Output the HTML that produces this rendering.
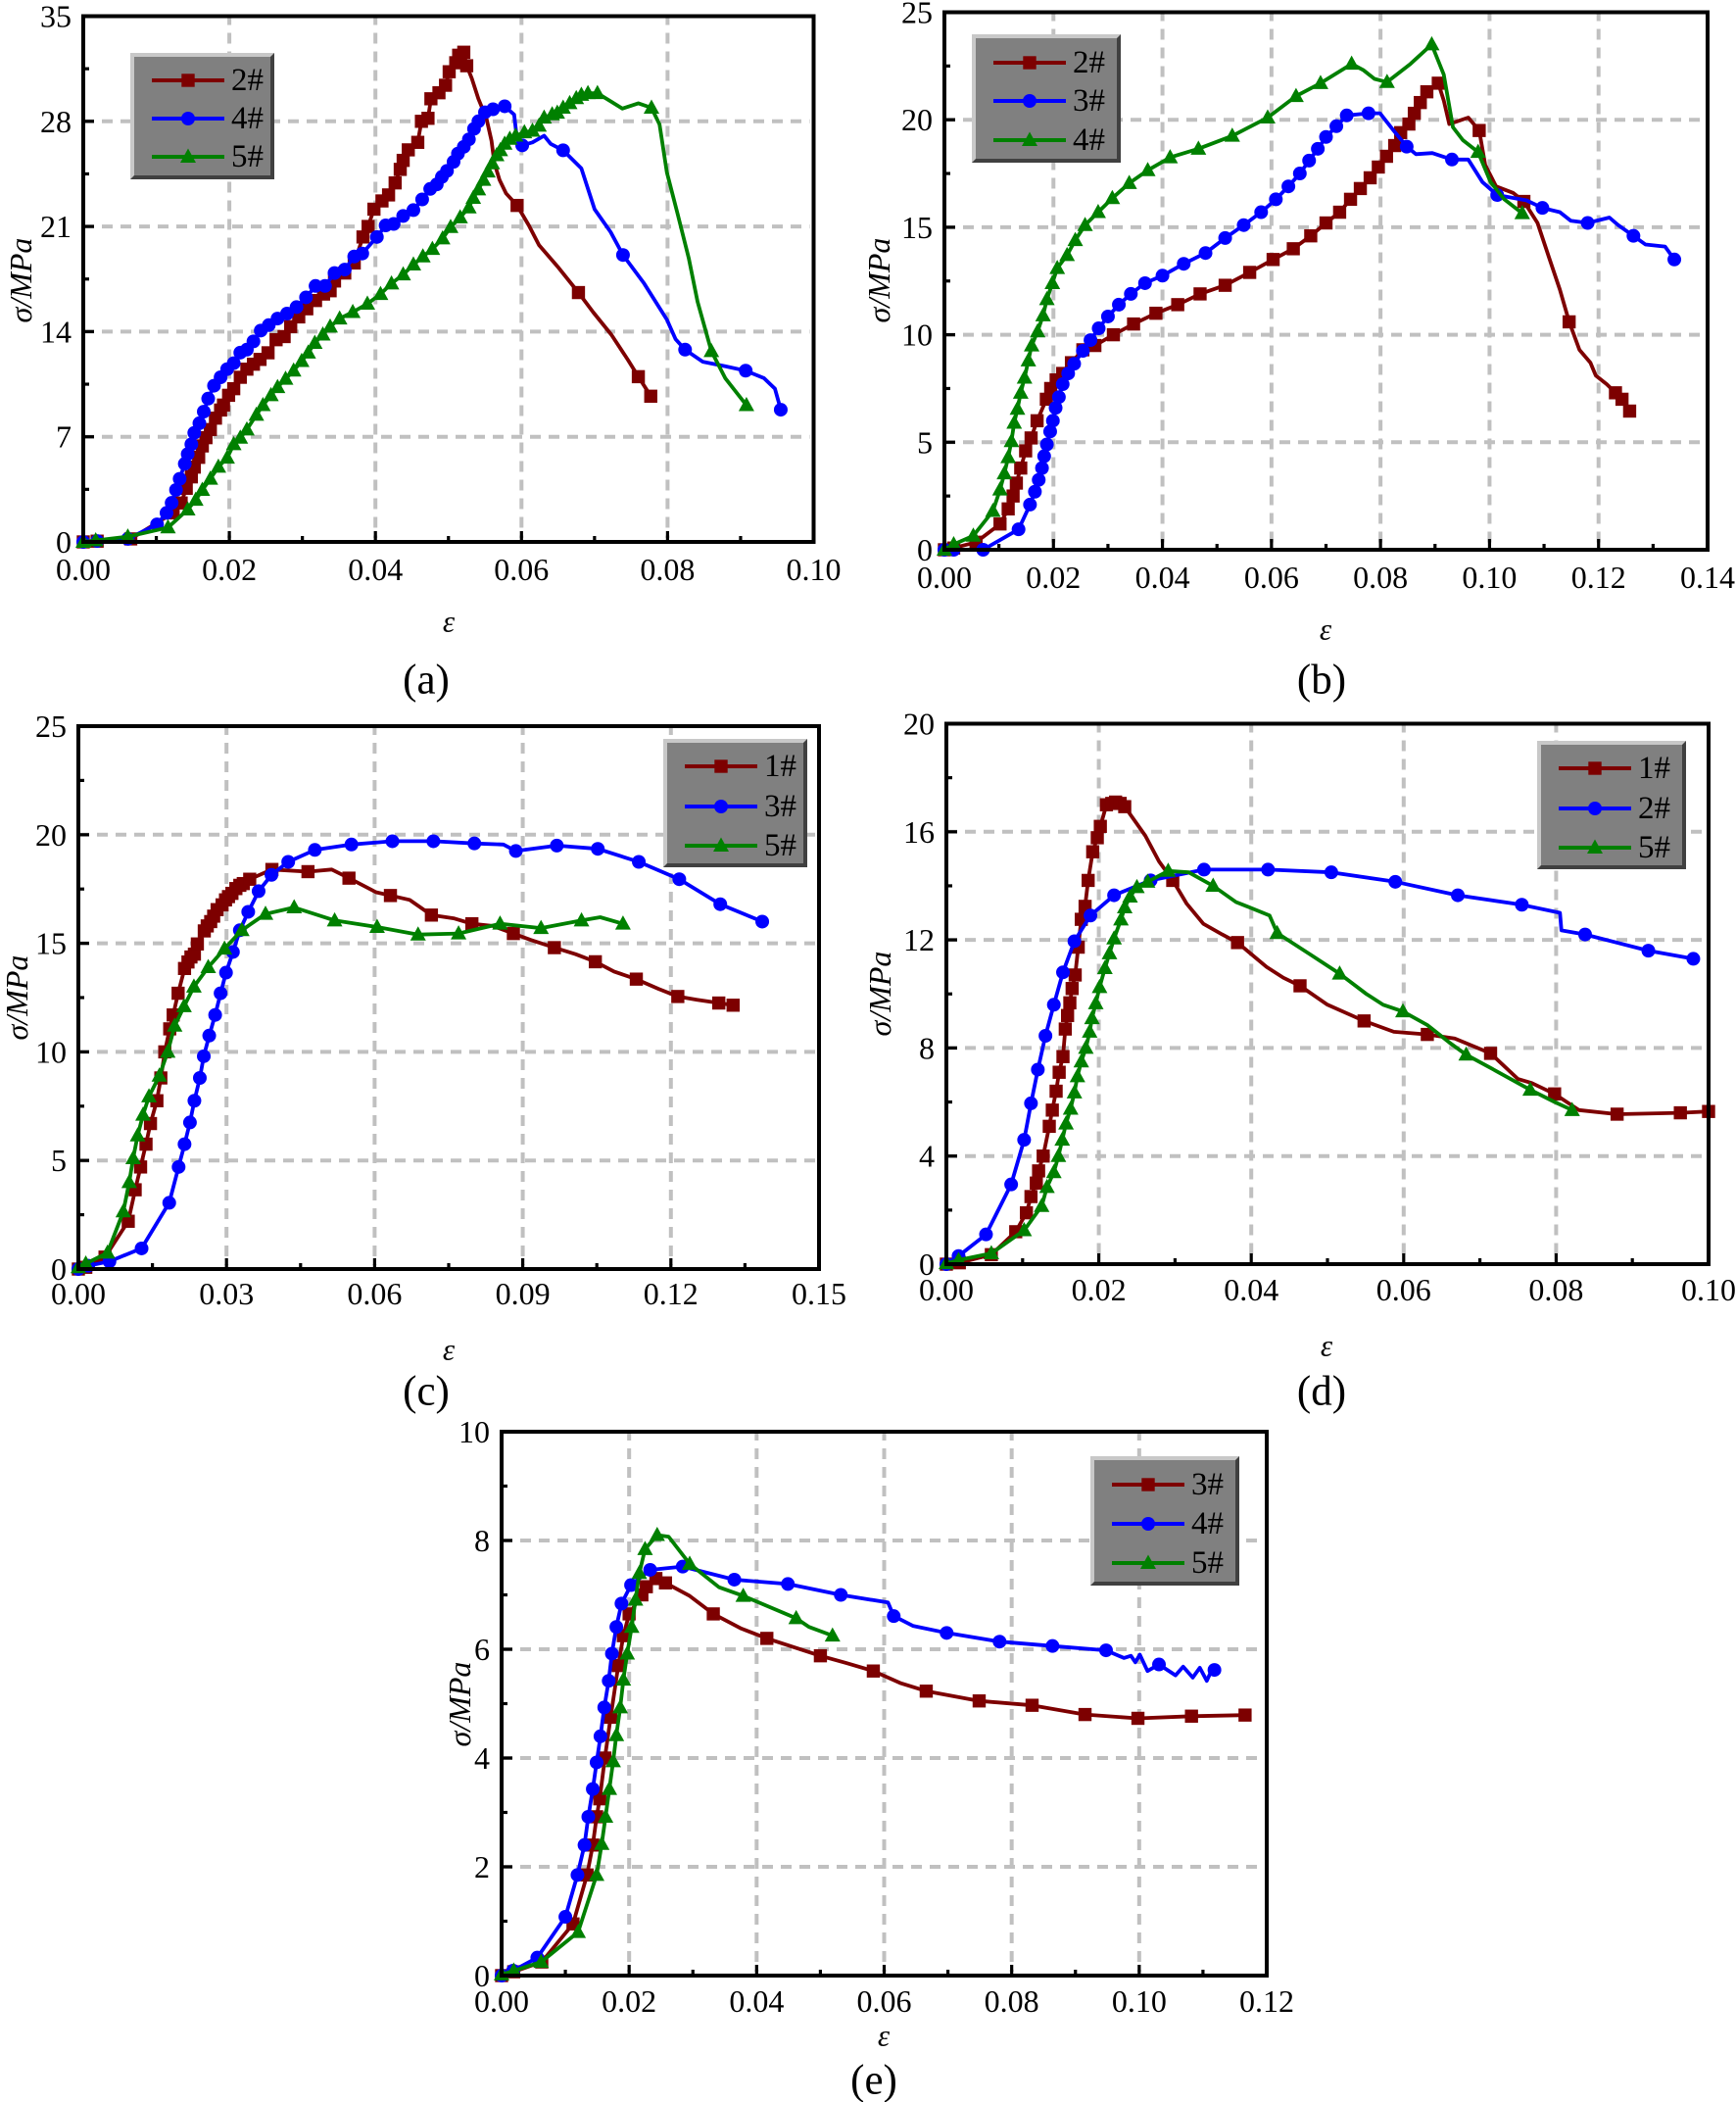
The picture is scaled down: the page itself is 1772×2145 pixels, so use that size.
<!DOCTYPE html>
<html lang="en">
<head>
<meta charset="utf-8">
<title>Stress-strain curves</title>
<style>
html,body{margin:0;padding:0;background:#fff;}
svg{display:block;position:absolute;left:0;top:0;}
text{font-family:"Liberation Serif",serif;fill:#000;}
</style>
</head>
<body>
<svg id="figure" xmlns="http://www.w3.org/2000/svg" width="1772" height="2145" viewBox="0 0 1772 2145"></svg>
<script>
// Panel (a)
const a2Eps=[0,.0019,.0065,.0123,.0134,.0141,.0148,.0152,.0158,.0163,.0168,.0174,.0181,.0188,.0192,.0199,.0206,.0215,.0224,.0233,.0242,.0253,.0264,.0275,.0284,.0295,.0306,.0318,.0329,.0338,.0344,.0358,.0371,.0383,.039,.0398,.0409,.0418,.0427,.0434,.0438,.0445,.0458,.0463,.0472,.0476,.0487,.0496,.0501,.051,.0514,.0521,.0525,.0594,.0678,.076,.0777];
const a2Sig=[0,.05,.2,1.93,2.59,3.57,4.33,4.98,5.63,6.39,6.94,7.48,8.24,8.78,9.11,9.76,10.2,10.96,11.5,11.83,12.15,12.59,13.46,13.67,14.33,14.98,15.52,16.07,16.5,16.72,17.37,17.9,18.57,20.3,21,22.15,22.7,23.1,23.9,24.8,25.4,26.1,26.6,28,28.2,29.5,29.9,30.4,31.3,31.9,32.4,32.6,31.7,22.4,16.6,11,9.7];
const a2BareEps=[.0532,.0541,.0552,.0559,.0563,.057,.0579,.061,.0624,.0651,.0698,.0723,.0746];
const a2BareSig=[30.85,29.5,28.2,26.7,25.2,24.1,23.2,21.07,19.76,18.24,15.3,13.8,12.1];
const a4Eps=[0,.0019,.0061,.0101,.0114,.0121,.0127,.0132,.0139,.0143,.0148,.0152,.0159,.0165,.0171,.0179,.0188,.0197,.0206,.0215,.0224,.0233,.0243,.0254,.0266,.0279,.0292,.0305,.0318,.0331,.0344,.0358,.0371,.0382,.0402,.0414,.0425,.0438,.0452,.0464,.0475,.0484,.0491,.0498,.0507,.0513,.0521,.0528,.0535,.0541,.055,.0561,.0577,.0601,.0657,.0739,.0824,.0907,.0955];
const a4Sig=[0,.06,.2,1.17,1.93,2.6,3.46,4.2,5.2,5.85,6.5,7.26,7.9,8.67,9.54,10.4,10.96,11.5,11.9,12.6,12.8,13.35,14.07,14.43,14.87,15.2,15.63,16.28,17.04,17.04,17.9,18.13,19,19.2,20.3,21.07,21.17,21.7,22.09,22.8,23.5,23.8,24.3,24.7,25.3,25.85,26.3,26.8,27.5,28,28.6,28.8,29,26.4,26.07,19.1,12.8,11.4,8.8];
const a4BareEps=[.059,.0593,.0615,.0631,.064,.0682,.07,.0722,.0768,.0799,.0811,.0848,.0879,.0932,.0947];
const a4BareSig=[28.45,27.15,26.6,27.04,26.5,24.87,22.15,20.63,17.2,14.8,13.5,12,11.7,10.9,10.2];
const a5Eps=[0,.0017,.0061,.0116,.0143,.0154,.0163,.0174,.0185,.0197,.0206,.0215,.0224,.0237,.0246,.0257,.0266,.0277,.0288,.0299,.0308,.0317,.0328,.0338,.0351,.0369,.0389,.0407,.0422,.0438,.0452,.0465,.0478,.0492,.0503,.0516,.0528,.0534,.0541,.0548,.0554,.056,.0566,.0571,.0577,.0584,.0592,.0604,.0615,.0624,.0631,.0642,.0649,.0657,.0666,.0675,.0682,.0691,.0704,.0778,.086,.0908];
const a5Sig=[0,.1,.35,.96,2.15,2.8,3.46,4.2,5,5.6,6.5,6.93,7.48,8.46,9.1,9.76,10.3,10.85,11.4,12.04,12.6,13.24,13.8,14.33,14.87,15.3,15.85,16.5,17.2,17.8,18.46,19,19.5,20.2,20.96,21.6,22.26,22.9,23.46,24.1,24.65,25.2,25.74,26.07,26.5,26.83,27.04,27.26,27.37,27.7,28.24,28.46,28.57,28.9,29.2,29.54,29.76,29.87,29.87,28.9,12.7,9.1];
const a5BareEps=[.0722,.0738,.076,.0789,.0799,.0814,.0829,.0841,.0879];
const a5BareSig=[29.33,28.85,29.2,27.8,24.6,21.8,18.9,16,10.9];

// Panel (b)
const b2Eps=[0,.0017,.0058,.0102,.0117,.0126,.0132,.014,.0149,.0159,.017,.0187,.0195,.0205,.0217,.0233,.0254,.0276,.031,.0347,.0388,.0428,.0469,.0515,.056,.0603,.064,.0672,.07,.0725,.0745,.0763,.0781,.0796,.0811,.0826,.0837,.0852,.0862,.0873,.0885,.0906,.0981,.1063,.1146,.1231,.1243,.1257];
const b2Sig=[0,.08,.35,1.2,1.9,2.5,3.1,3.8,4.6,5.2,6,7,7.5,7.9,8.2,8.7,9.3,9.5,10,10.5,11,11.4,11.9,12.3,12.9,13.5,14,14.6,15.2,15.7,16.3,16.8,17.3,17.8,18.3,18.8,19.4,19.8,20.3,20.8,21.3,21.7,19.5,16.2,10.6,7.3,7,6.45];
const b2BareEps=[.0916,.0926,.0961,.0992,.1012,.1043,.1088,.1109,.1129,.1165,.1185,.1195,.1215];
const b2BareSig=[20.9,19.8,20.1,17.9,16.9,16.6,15.2,13.6,12.1,9.3,8.7,8.1,7.7];
const b3Eps=[0,.0017,.0071,.0136,.0157,.0166,.0173,.0179,.0183,.0188,.0194,.0199,.0204,.021,.0217,.0227,.0238,.0254,.0268,.0283,.03,.032,.0342,.0368,.04,.0439,.0479,.0515,.0549,.0581,.0608,.0631,.0652,.0669,.0685,.07,.0719,.0738,.0778,.0848,.0931,.1014,.1097,.118,.1264,.1339];
const b3Sig=[0,0,0,.95,2.1,2.7,3.25,3.8,4.35,4.9,5.5,6,6.6,7.1,7.7,8.2,8.65,9.25,9.75,10.3,10.85,11.4,11.9,12.4,12.75,13.3,13.8,14.5,15.1,15.7,16.3,16.9,17.5,18.1,18.65,19.2,19.7,20.2,20.3,18.75,18.15,16.5,15.9,15.2,14.6,13.5];
const b3BareEps=[.0799,.0824,.0865,.0895,.0961,.0987,.1068,.1129,.1149,.122,.1236,.1286,.1322];
const b3BareSig=[20.3,19.5,18.4,18.45,18.15,17.1,16.25,15.7,15.3,15.45,15.1,14.2,14.1];
const b4Eps=[0,.0017,.0053,.0089,.0102,.011,.0117,.0123,.0128,.0134,.014,.0147,.0154,.016,.0171,.0181,.0188,.0198,.0207,.0225,.024,.0258,.0282,.0308,.0339,.0373,.0414,.0466,.0528,.0593,.0645,.069,.0747,.0812,.0894,.0979,.106];
const b4Sig=[0,.25,.65,1.8,2.8,3.55,4.3,5.05,5.9,6.55,7.3,8,8.8,9.5,10.15,10.9,11.65,12.4,13.1,13.7,14.4,15.1,15.7,16.35,17.05,17.65,18.25,18.65,19.25,20.1,21.1,21.7,22.6,21.75,23.5,18.5,15.65];
const b4BareEps=[.0769,.0789,.0855,.0916,.0933,.0951,.1002,.1027];
const b4BareSig=[22.3,21.9,22.6,22.1,19.65,19.05,17.1,16.3];

// Panel (c)
const c1Eps=[0,.0015,.0054,.0101,.0115,.0126,.0137,.0146,.0159,.0167,.0175,.0185,.0192,.0202,.0215,.0222,.0228,.0235,.0241,.0255,.0261,.0268,.0274,.0281,.0291,.0298,.0304,.0311,.0319,.0327,.0334,.0347,.0392,.0465,.0548,.0632,.0715,.0797,.0881,.0964,.1047,.113,.1214,.1297,.1326];
const c1Sig=[0,.08,.55,2.2,3.65,4.7,5.75,6.7,7.75,8.8,10,11.06,11.7,12.7,13.84,14.14,14.37,14.5,14.97,15.57,15.8,16,16.25,16.55,16.77,17,17.15,17.3,17.52,17.67,17.75,17.95,18.4,18.3,18,17.2,16.3,15.9,15.45,14.8,14.15,13.35,12.55,12.25,12.15];
const c1BareEps=[.0513,.0603,.0671,.076,.0839,.0917,.1007,.1085,.1175,.1253];
const c1BareSig=[18.4,17.35,17,16.15,15.8,15.15,14.5,13.7,12.9,12.4];
const c3Eps=[0,.002,.0063,.0128,.0184,.0203,.0215,.0226,.0235,.0246,.0254,.0265,.0277,.0288,.0299,.0313,.0327,.0344,.0365,.0391,.0425,.0479,.0553,.0636,.0719,.0802,.0886,.0969,.1052,.1135,.1217,.13,.1385];
const c3Sig=[0,.15,.35,.95,3.05,4.7,5.75,6.75,7.75,8.8,9.8,10.75,11.7,12.7,13.65,14.6,15.6,16.45,17.4,18.15,18.75,19.3,19.55,19.7,19.7,19.6,19.25,19.5,19.35,18.75,17.95,16.8,16];
const c3BareEps=[.0861];
const c3BareSig=[19.55];
const c5Eps=[0,.0015,.0059,.0091,.0103,.0111,.012,.0131,.0143,.0164,.0181,.0195,.0214,.0234,.0263,.0296,.0331,.0379,.0437,.0519,.0605,.0688,.077,.0854,.0937,.1019,.1103];
const c5Sig=[.08,.25,.75,2.65,4,5.1,6.15,7.1,7.95,8.9,10,11.2,12.1,13,13.9,14.75,15.6,16.35,16.65,16.05,15.75,15.4,15.45,15.9,15.7,16.05,15.9];
const c5BareEps=[.1057];
const c5BareSig=[16.2];

// Panel (d)
const d1Eps=[0,.0017,.0059,.0091,.0105,.0111,.0118,.0121,.0127,.0135,.0139,.0144,.0148,.0153,.0156,.0159,.0162,.0165,.0169,.0173,.0177,.0182,.0186,.0192,.0198,.0202,.021,.0217,.0222,.0228,.0234,.0297,.0382,.0464,.0548,.0631,.0714,.0798,.088,.0963,.1];
const d1Sig=[0,.05,.35,1.2,1.9,2.5,3,3.45,4,5.1,5.7,6.4,7.1,7.68,8.7,9.2,9.67,10.2,10.7,11.73,12.76,13.24,14.2,15.26,15.78,16.2,17,17.05,17.1,17.05,16.93,14.2,11.9,10.3,9,8.5,7.8,6.3,5.55,5.6,5.65];
const d1BareEps=[.0261,.0279,.0315,.0337,.0362,.042,.0442,.05,.0587,.0667,.075,.0768,.083];
const d1BareSig=[15.85,14.9,13.35,12.6,12.2,11,10.6,9.6,8.6,8.35,6.85,6.7,5.7];
const d2Eps=[0,.0016,.0052,.0085,.0102,.0111,.012,.013,.0141,.0153,.0168,.0189,.022,.0268,.0338,.0422,.0505,.0589,.0671,.0755,.0838,.0921,.098];
const d2Sig=[0,.3,1.1,2.95,4.6,5.95,7.2,8.45,9.6,10.8,11.95,12.9,13.65,14.2,14.6,14.6,14.5,14.15,13.65,13.3,12.2,11.6,11.3];
const d2BareEps=[.0805,.0807];
const d2BareSig=[13,12.35];
const d5Eps=[0,.0016,.0059,.0102,.0125,.0132,.0141,.0147,.0152,.0157,.0163,.0168,.0172,.0177,.0183,.0188,.0191,.0196,.0201,.0208,.0214,.022,.0229,.0234,.0241,.025,.0264,.0291,.035,.0434,.0516,.0599,.0682,.0766,.0821];
const d5Sig=[.03,.15,.4,1.25,2.15,2.85,3.4,4,4.6,5.2,5.75,6.35,6.95,7.5,8,8.6,9.1,9.65,10.25,10.95,11.5,12.05,12.75,13.2,13.6,13.95,14.15,14.55,14,12.25,10.75,9.35,7.75,6.45,5.7];
const d5BareEps=[.0318,.038,.0398,.0424,.0478,.0551,.0573,.0631,.066,.0718,.0798];
const d5BareSig=[14.5,13.4,13.2,12.9,11.45,10,9.6,8.85,8.2,7.2,6];

// Panel (e)
const e3Eps=[0,.0019,.0063,.0112,.0134,.0143,.0149,.0154,.0162,.0171,.0183,.0191,.02,.022,.0227,.0242,.0257,.0332,.0416,.05,.0583,.0666,.0749,.0832,.0915,.0998,.1082,.1166];
const e3Sig=[0,.07,.25,.95,1.85,2.4,2.92,3.25,4,4.75,5.7,6.25,6.65,7,7.15,7.3,7.22,6.65,6.2,5.88,5.6,5.23,5.05,4.97,4.8,4.73,4.77,4.79];
const e3BareEps=[.0295,.0376,.054,.0625];
const e3BareSig=[6.98,6.38,5.75,5.38];
const e4Eps=[0,.0018,.0056,.01,.0119,.013,.0136,.0143,.0149,.0155,.0161,.0168,.0173,.018,.0188,.0203,.0233,.0284,.0365,.0449,.0532,.0615,.0698,.0781,.0864,.0948,.1031,.1118];
const e4Sig=[0,.09,.33,1.08,1.85,2.4,2.92,3.43,3.92,4.4,4.93,5.42,5.92,6.41,6.84,7.18,7.46,7.52,7.28,7.2,7,6.61,6.3,6.14,6.06,5.98,5.72,5.62];
const e4BareEps=[.0606,.0645,.0976,.0987,.0994,.1001,.1013,.1057,.1069,.1084,.1095,.1106,.1113];
const e4BareSig=[6.86,6.43,5.84,5.88,5.76,5.9,5.6,5.52,5.68,5.48,5.66,5.42,5.6];
const e5Eps=[0,.0019,.0062,.012,.0149,.0157,.0163,.0169,.0175,.018,.0186,.0191,.0197,.0204,.021,.0216,.0225,.0244,.0295,.0379,.0462,.0519];
const e5Sig=[.02,.09,.25,.8,1.85,2.42,2.92,3.43,3.94,4.42,4.93,5.44,5.92,6.41,6.91,7.4,7.84,8.1,7.57,6.98,6.57,6.25];
const e5BareEps=[.0262,.0341,.0482];
const e5BareSig=[8.07,7.14,6.41];

// Tick labels
const xTicksAB=["0.00","0.02","0.04","0.06","0.08","0.10"];
const xTicksB=["0.00","0.02","0.04","0.06","0.08","0.10","0.12","0.14"];
const xTicksC=["0.00","0.03","0.06","0.09","0.12","0.15"];
const xTicksE=["0.00","0.02","0.04","0.06","0.08","0.10","0.12"];
const yTicksA=["0","7","14","21","28","35"];
const yTicksB=["0","5","10","15","20","25"];
const yTicksD=["0","4","8","12","16","20"];
const yTicksE=["0","2","4","6","8","10"];

const SVGNS="http://www.w3.org/2000/svg";
const RED="#7d0000",BLUE="#0000ff",GREEN="#008000";
const root=document.getElementById("figure");

function mk(tag,attrs,parent){
  const el=document.createElementNS(SVGNS,tag);
  for(const k in attrs){el.setAttribute(k,attrs[k]);}
  (parent||root).appendChild(el);
  return el;
}
function label(parent,x,y,str,size,anchor,italic){
  const t=mk("text",{x:x,y:y,"font-size":size,"text-anchor":anchor||"middle","dominant-baseline":"central","font-style":italic?"italic":"normal"},parent);
  t.textContent=str;
  return t;
}
function marker(parent,shape,color,x,y){
  if(shape==="square"){return mk("rect",{x:x-6.7,y:y-6.7,width:13.4,height:13.4,fill:color},parent);}
  if(shape==="circle"){return mk("circle",{cx:x,cy:y,r:7,fill:color},parent);}
  return mk("polygon",{points:(x)+","+(y-8.5)+" "+(x+8)+","+(y+6)+" "+(x-8)+","+(y+6),fill:color},parent);
}

function drawPanel(p){
  const g=mk("g",{});
  
  
  const sx=function(v){return p.L+(v/p.xMax)*(p.R-p.L);};
  const sy=function(v){return p.B-(v/p.yMax)*(p.B-p.T);};
  const nx=p.xTicks.length-1, ny=p.yTicks.length-1;

  const grid=mk("g",{stroke:"#c0c0c0","stroke-width":4,"stroke-dasharray":"11 8",fill:"none"},g);
  
  
  for(let i=1;i<nx;i++){
    const v=p.xMax*i/nx;
    mk("line",{x1:sx(v),x2:sx(v),y1:p.T-2,y2:p.B-4},grid);
  }
  for(let i=1;i<ny;i++){
    const v=p.yMax*i/ny;
    mk("line",{x1:p.L,x2:p.R-4,y1:sy(v),y2:sy(v)},grid);
  }

  const ticks=mk("g",{stroke:"#000","stroke-width":3.2,fill:"none"},g);
  
  
  for(let i=0;i<=nx*2;i++){
    const v=p.xMax*i/(nx*2);
    const len=i%2?6:11;
    mk("line",{x1:sx(v),x2:sx(v),y1:p.B,y2:p.B-len},ticks);
  }
  for(let i=0;i<=ny*2;i++){
    const v=p.yMax*i/(ny*2);
    const len=i%2?6:11;
    mk("line",{x1:p.L,x2:p.L+len,y1:sy(v),y2:sy(v)},ticks);
  }

  p.series.forEach(function(s){
    const sg=mk("g",{},g);
    
    
    const pts=[];
    s.eps.forEach(function(e,i){pts.push([e,s.sig[i]]);});
    s.bareEps.forEach(function(e,i){pts.push([e,s.bareSig[i]]);});
    pts.sort(function(a,b){return a[0]-b[0];});
    const d=pts.map(function(q){return sx(q[0]).toFixed(1)+","+sy(q[1]).toFixed(1);}).join(" ");
    const line=mk("polyline",{points:d,fill:"none",stroke:s.color,"stroke-width":3.8,"stroke-linejoin":"round"},sg);
    
    
    s.eps.forEach(function(e,i){
      const m=marker(sg,s.shape,s.color,sx(e),sy(s.sig[i]));
      
      
    });
  });

  const frame=mk("rect",{x:p.L,y:p.T,width:p.R-p.L,height:p.B-p.T,fill:"none",stroke:"#000","stroke-width":4},g);
  
  

  p.xTicks.forEach(function(t,i){
    const el=label(g,sx(p.xMax*i/nx),p.xLabelY,t,32);
    
    
  });
  p.yTicks.forEach(function(t,i){
    const el=label(g,p.L-12,sy(p.yMax*i/ny),t,32,"end");
    
    
  });

  const xt=label(g,p.epsX,p.epsY,"ε",31,"middle",true);
  
  
  const yt=label(g,0,0,"σ/MPa",32,"middle",true);
  yt.setAttribute("transform","translate("+p.sigX+","+p.sigY+") rotate(-90)");
  
  
  const cap=label(g,p.capX,p.capY,p.cap,43);
  
  

  const lg=mk("g",{},g);
  
  
  const b=p.legend;
  mk("rect",{x:b.x,y:b.y,width:b.w,height:b.h,fill:"#c8c8c8"},lg);
  mk("polygon",{points:(b.x+b.w)+","+b.y+" "+(b.x+b.w)+","+(b.y+b.h)+" "+b.x+","+(b.y+b.h)+" "+(b.x+4)+","+(b.y+b.h-4)+" "+(b.x+b.w-4)+","+(b.y+b.h-4)+" "+(b.x+b.w-4)+","+(b.y+4),fill:"#404040"},lg);
  mk("rect",{x:b.x+4,y:b.y+4,width:b.w-8,height:b.h-8,fill:"#808080"},lg);
  p.series.forEach(function(s,i){
    const y=b.rows[i];
    const entry=mk("g",{},lg);
    
    
    mk("line",{x1:b.x+22,x2:b.x+96,y1:y,y2:y,stroke:s.color,"stroke-width":4},entry);
    marker(entry,s.shape,s.color,b.x+59,y);
    label(entry,b.x+103,y,s.name,33,"start");
  });
}

drawPanel({id:"a",cap:"(a)",L:85,R:830.5,T:16.5,B:553,xMax:.10,yMax:35,xTicks:xTicksAB,yTicks:yTicksA,xLabelY:581,
  epsX:458,epsY:634,sigX:21,sigY:286,capX:435,capY:694,
  legend:{x:133,y:54,w:147,h:129,rows:[82,121,160]},
  series:[
    {name:"2#",color:RED,shape:"square",eps:a2Eps,sig:a2Sig,bareEps:a2BareEps,bareSig:a2BareSig},
    {name:"4#",color:BLUE,shape:"circle",eps:a4Eps,sig:a4Sig,bareEps:a4BareEps,bareSig:a4BareSig},
    {name:"5#",color:GREEN,shape:"triangle",eps:a5Eps,sig:a5Sig,bareEps:a5BareEps,bareSig:a5BareSig}]});

drawPanel({id:"b",cap:"(b)",L:964,R:1743,T:12.5,B:561,xMax:.14,yMax:25,xTicks:xTicksB,yTicks:yTicksB,xLabelY:589,
  epsX:1353,epsY:642,sigX:897,sigY:286,capX:1349,capY:694,
  legend:{x:992,y:35,w:152,h:131,rows:[64,103,143]},
  series:[
    {name:"2#",color:RED,shape:"square",eps:b2Eps,sig:b2Sig,bareEps:b2BareEps,bareSig:b2BareSig},
    {name:"3#",color:BLUE,shape:"circle",eps:b3Eps,sig:b3Sig,bareEps:b3BareEps,bareSig:b3BareSig},
    {name:"4#",color:GREEN,shape:"triangle",eps:b4Eps,sig:b4Sig,bareEps:b4BareEps,bareSig:b4BareSig}]});

drawPanel({id:"c",cap:"(c)",L:80,R:836,T:741,B:1295,xMax:.15,yMax:25,xTicks:xTicksC,yTicks:yTicksB,xLabelY:1320,
  epsX:458,epsY:1377,sigX:17,sigY:1018,capX:435,capY:1420,
  legend:{x:677,y:754,w:147,h:131,rows:[782,823,863]},
  series:[
    {name:"1#",color:RED,shape:"square",eps:c1Eps,sig:c1Sig,bareEps:c1BareEps,bareSig:c1BareSig},
    {name:"3#",color:BLUE,shape:"circle",eps:c3Eps,sig:c3Sig,bareEps:c3BareEps,bareSig:c3BareSig},
    {name:"5#",color:GREEN,shape:"triangle",eps:c5Eps,sig:c5Sig,bareEps:c5BareEps,bareSig:c5BareSig}]});

drawPanel({id:"d",cap:"(d)",L:966,R:1744,T:738.5,B:1290,xMax:.10,yMax:20,xTicks:xTicksAB,yTicks:yTicksD,xLabelY:1316,
  epsX:1354,epsY:1373,sigX:898,sigY:1014,capX:1349,capY:1420,
  legend:{x:1569,y:756,w:152,h:131,rows:[784,825,865]},
  series:[
    {name:"1#",color:RED,shape:"square",eps:d1Eps,sig:d1Sig,bareEps:d1BareEps,bareSig:d1BareSig},
    {name:"2#",color:BLUE,shape:"circle",eps:d2Eps,sig:d2Sig,bareEps:d2BareEps,bareSig:d2BareSig},
    {name:"5#",color:GREEN,shape:"triangle",eps:d5Eps,sig:d5Sig,bareEps:d5BareEps,bareSig:d5BareSig}]});

drawPanel({id:"e",cap:"(e)",L:512,R:1293,T:1461,B:2016,xMax:.12,yMax:10,xTicks:xTicksE,yTicks:yTicksE,xLabelY:2042,
  epsX:902,epsY:2077,sigX:469,sigY:1739,capX:892,capY:2123,
  legend:{x:1113,y:1486,w:152,h:132,rows:[1515,1555,1595]},
  series:[
    {name:"3#",color:RED,shape:"square",eps:e3Eps,sig:e3Sig,bareEps:e3BareEps,bareSig:e3BareSig},
    {name:"4#",color:BLUE,shape:"circle",eps:e4Eps,sig:e4Sig,bareEps:e4BareEps,bareSig:e4BareSig},
    {name:"5#",color:GREEN,shape:"triangle",eps:e5Eps,sig:e5Sig,bareEps:e5BareEps,bareSig:e5BareSig}]});
</script>
</body>
</html>
